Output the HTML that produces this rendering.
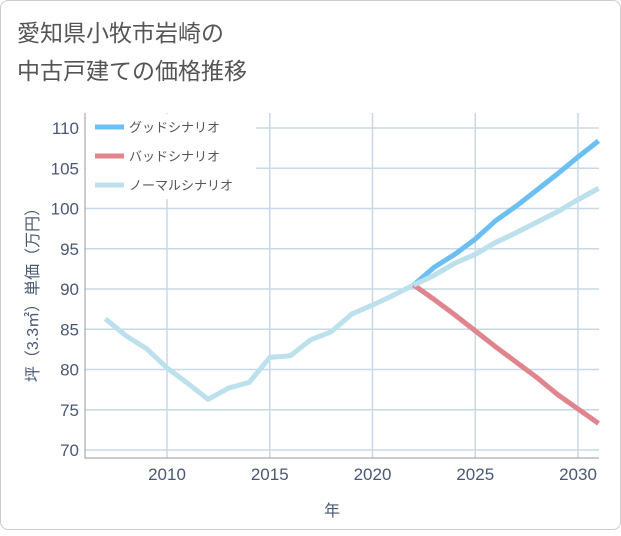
<!DOCTYPE html>
<html><head><meta charset="utf-8"><style>
body{margin:0;background:#fff;font-family:"Liberation Sans","Noto Sans CJK JP",sans-serif}
#card{position:absolute;left:0;top:0;width:619px;height:528px;border:1px solid #ccc;border-radius:8px;background:#fff}
</style></head><body>
<div id="card">
<svg width="621" height="530">
<text x="16" y="40" font-size="23" fill="#555">愛知県小牧市岩崎の</text>
<text x="16" y="78" font-size="23" fill="#555">中古戸建ての価格推移</text>
<g id="grid"></g><g id="axes"></g><g id="series"></g><g id="legend"></g>
<text x="331" y="515" font-size="16" fill="#4a5875" text-anchor="middle">年</text>
<text transform="translate(37,290) rotate(-90)" font-size="16" fill="#4a5875" text-anchor="middle">坪（3.3㎡）単価（万円）</text>
</svg></div>
<script>
const years=[2007,2008,2009,2010,2011,2012,2013,2014,2015,2016,2017,2018,2019,2020,2021,2022,2023,2024,2025,2026,2027,2028,2029,2030,2031];
const normal=[86.3,84.2,82.6,80.2,78.3,76.3,77.7,78.4,81.5,81.7,83.7,84.7,86.9,88.0,89.2,90.5,91.7,93.2,94.3,95.8,97.0,98.3,99.6,101.1,102.5];
const goodYears=[2022,2023,2024,2025,2026,2027,2028,2029,2030,2031];
const good=[90.5,92.7,94.3,96.2,98.5,100.3,102.3,104.3,106.4,108.4];
const bad=[90.5,88.7,86.8,84.8,82.8,80.9,79.0,76.9,75.1,73.3];
const yTicks=[70,75,80,85,90,95,100,105,110];
const xTicks=[2010,2015,2020,2025,2030];
const ns="http://www.w3.org/2000/svg";
const X=y=>166+(y-2010)*20.55, Y=v=>127+(110-v)*8.05;
function mk(tag,attrs,parent){const e=document.createElementNS(ns,tag);for(const k in attrs)e.setAttribute(k,attrs[k]);document.getElementById(parent).appendChild(e);return e;}
yTicks.forEach(v=>{
 const l=mk('line',{x1:84,x2:598,y1:Y(v),y2:Y(v),stroke:'#c8d8e6','stroke-width':1.5},'grid');
 
 
 const t=mk('text',{x:78,y:Y(v)+6,'font-size':17,fill:'#4a5875','text-anchor':'end'},'axes');t.textContent=v;
 
 
});
xTicks.forEach(v=>{
 const l=mk('line',{x1:X(v),x2:X(v),y1:112,y2:457,stroke:'#c8d8e6','stroke-width':1.5},'grid');
 
 
 const t=mk('text',{x:X(v),y:479,'font-size':17,fill:'#4a5875','text-anchor':'middle'},'axes');t.textContent=v;
 
 
});
const ax=mk('path',{d:'M84 112V457H598',fill:'none',stroke:'#999','stroke-width':1},'axes');


function line(xs,vs,color,name){const p=mk('polyline',{points:xs.map((y,i)=>X(y)+','+Y(vs[i])).join(' '),fill:'none',stroke:color,'stroke-width':5,'stroke-linejoin':'round'},'series');
 
 }
line(years,normal,'#bde0ed','normal-series');
line(goodYears,bad,'#e0848d','bad-series');
line(goodYears,good,'#6bbff2','good-series');
line(years.slice(15),normal.slice(15),'#bde0ed','normal-series-overlay');
const bg=mk('rect',{x:85,y:113,width:170,height:85,fill:'#fff'},'legend');


[['グッドシナリオ','#6bbff2'],['バッドシナリオ','#e0848d'],['ノーマルシナリオ','#bde0ed']].forEach((d,i)=>{
 const y=126+i*29;
 const s=mk('line',{x1:94,x2:123,y1:y,y2:y,stroke:d[1],'stroke-width':5},'legend');
 
 
 const t=mk('text',{x:128,y:y+5,'font-size':13,fill:'#555'},'legend');t.textContent=d[0];
 
 
});
</script></body></html>
